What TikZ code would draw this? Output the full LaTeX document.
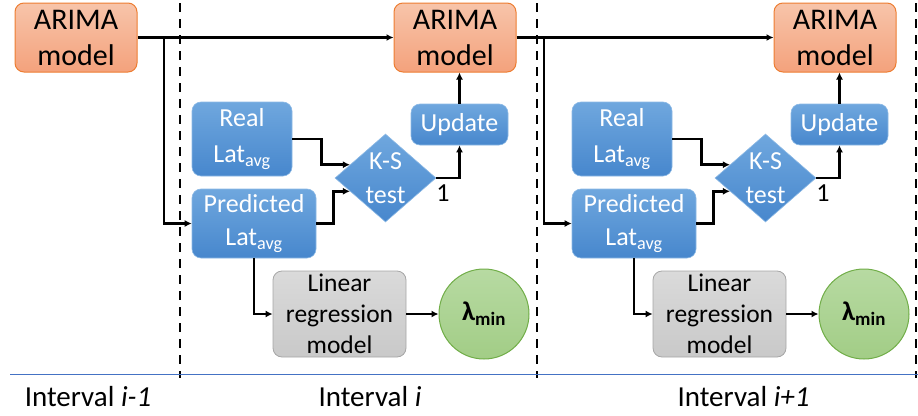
\documentclass[tikz,border=0pt]{standalone}
\usepackage{fontspec}
\setmainfont{Carlito}
\usepackage{xcolor}
\usetikzlibrary{arrows.meta, shapes.geometric, positioning, calc}
\definecolor{arimaTop}{HTML}{F7C4AA}
\definecolor{arimaBot}{HTML}{F4A27C}
\definecolor{arimaEdge}{HTML}{ED7D31}
\definecolor{blueTop}{HTML}{6FA7DE}
\definecolor{blueBot}{HTML}{4787CD}
\definecolor{grayTop}{HTML}{DADADA}
\definecolor{grayBot}{HTML}{C9C9C9}
\definecolor{grayEdge}{HTML}{A6A6A6}
\definecolor{greenTop}{HTML}{B7DAA2}
\definecolor{greenBot}{HTML}{A2CD86}
\definecolor{greenEdge}{HTML}{70AD47}
\definecolor{lineBlue}{HTML}{4472C4}

\tikzset{
    arima/.style={rounded corners=9pt, draw=arimaEdge, line width=1pt, top color=arimaTop, bottom color=arimaBot,
        minimum width=122pt, minimum height=69pt, align=center, inner sep=0pt,
        font=\fontsize{30}{36}\selectfont},
    bluebox/.style={rounded corners=9pt, draw=blueTop!80!white, line width=0.6pt, top color=blueTop, bottom color=blueBot,
        text=white, align=center, inner sep=0pt, font=\fontsize{26}{33}\selectfont},
    ksdiamond/.style={diamond, draw=blueTop!80!white, line width=0.6pt, top color=blueTop, bottom color=blueBot,
        text=white, align=center, inner sep=-8pt, minimum width=101pt, minimum height=88pt,
        font=\fontsize{26}{34}\selectfont},
    linbox/.style={rounded corners=9pt, draw=grayEdge, line width=0.8pt, top color=grayTop, bottom color=grayBot,
        minimum width=133pt, minimum height=86pt, align=center, inner sep=0pt,
        font=\fontsize{25.5}{31}\selectfont},
    lambda/.style={circle, draw=greenEdge, line width=1pt, top color=greenTop, bottom color=greenBot,
        minimum size=90pt, inner sep=0pt, font=\fontsize{27}{32}\selectfont\bfseries},
    conn/.style={line width=2.6pt, -{Latex[length=7pt,width=7pt]}},
    border/.style={line width=2pt, dash pattern=on 9pt off 7pt},
    timeline/.style={lineBlue, line width=1pt},
    intlabel/.style={font=\fontsize{29}{33}\selectfont}
}

\begin{document}
\begin{tikzpicture}[x=1pt, y=-1pt]
    \useasboundingbox (0,0) rectangle (918,415);

    % Draw the interval borders and the time line
    \foreach \x in {180, 537, 916} {
        \draw[border] (\x,3) -- (\x,378);
    }
    \draw[timeline] (10,374) -- (918,374);

    % Draw the first model
    \node[arima] (arimaL) at (76,37.5) {ARIMA\\model};
    \node[intlabel] (intL) at (88,397) {Interval \textit{i-1}};

    % Draw the two intervals
    \foreach \s/\p/\dx/\lab in {a/L/0/i, b/a/380/i+1} {
        \node[arima] (arima\s) at ({455+\dx},37.5) {ARIMA\\model};
        \node[bluebox, minimum width=100pt, minimum height=74pt] (real\s) at ({242+\dx},139) {Real\\[3pt]Lat\textsubscript{avg}};
        \node[bluebox, minimum width=124pt, minimum height=69pt] (pred\s) at ({254+\dx},223.5) {Predicted\\Lat\textsubscript{avg}};
        \node[ksdiamond] (ks\s) at ({385.5+\dx},178) {K-S\\test};
        \node[bluebox, minimum width=97pt, minimum height=41pt] (upd\s) at ({459.5+\dx},124.5) {Update};
        \node[linbox] (lin\s) at ({339.5+\dx},314) {Linear\\regression\\model};
        \node[lambda] (lam\s) at ({484+\dx},314) {λ\textsubscript{min}};
        \node (one\s) at ({443+\dx},193) {\fontsize{26}{30}\selectfont 1};
        \node[intlabel] (int\s) at ({370+\dx*0.983},397) {Interval \textit{\lab}};
        \coordinate (split\s) at ({164+\dx},37.5);

        % Connect the boxes
        \draw[conn] (arima\p.east) -- (arima\s.west);
        \draw[conn] (split\s) |- (pred\s.west);
        \draw[conn] (real\s.east) -- ++(29,0) |- ($(ks\s.west)!0.3!(ks\s.north)$);
        \draw[conn] (pred\s.east) -- ++(17,0) |- ($(ks\s.west)!0.3!(ks\s.south)$);
        \draw[conn] (ks\s.east) -| (upd\s.south);
        \draw[conn] (upd\s.north) -- (upd\s.north |- arima\s.south);
        \draw[conn] (pred\s.south) |- (lin\s.west);
        \draw[conn] (lin\s.east) -- (lam\s.west);
    }
\end{tikzpicture}
\end{document}
